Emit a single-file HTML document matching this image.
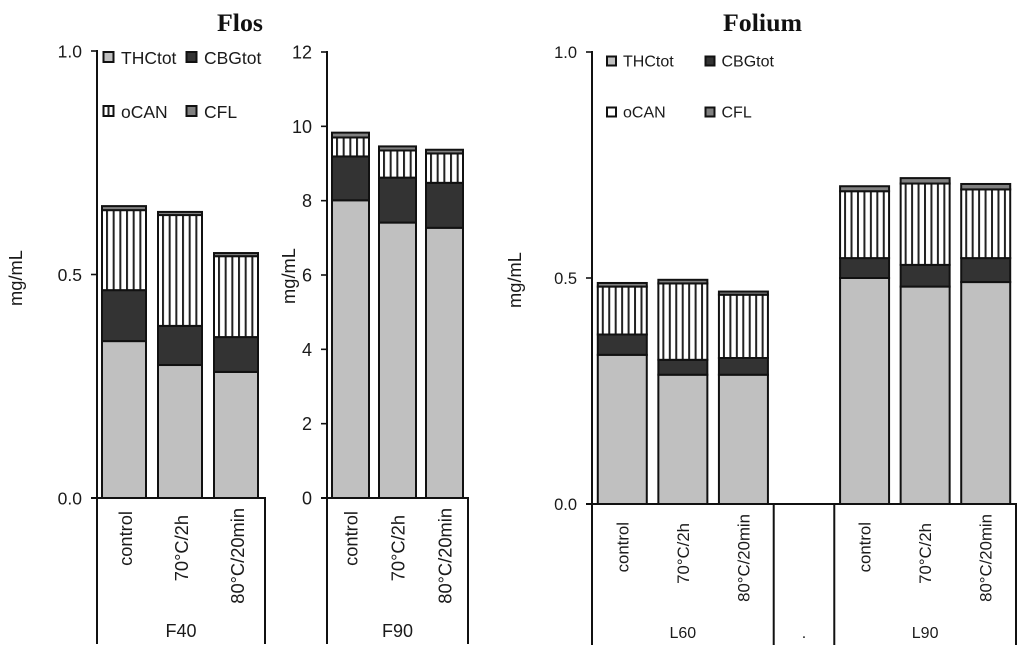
<!DOCTYPE html>
<html>
<head>
<meta charset="utf-8">
<title>Flos and Folium cannabinoid content</title>
<style>
html,body{margin:0;padding:0;background:#fff;}
svg{display:block;}
text{font-family:"Liberation Sans",sans-serif;fill:#1a1a1a;}
.title{font-family:"Liberation Serif",serif;font-weight:bold;font-size:25px;fill:#111;}
</style>
</head>
<body>
<svg id="chart" xmlns="http://www.w3.org/2000/svg" width="1024" height="654" viewBox="0 0 1024 654">
  <defs id="defs"></defs>
  <text class="title" x="217" y="31" textLength="46" lengthAdjust="spacingAndGlyphs">Flos</text>
  <text class="title" x="723" y="31" textLength="79" lengthAdjust="spacingAndGlyphs">Folium</text>
  <g id="marks"></g>
</svg>
<script>
// Series names
const seriesNames = ['THCtot', 'CBGtot', 'oCAN', 'CFL'];

// Panel F40
const f40Categories = ['control', '70°C/2h', '80°C/20min'];
const f40Thc = [0.351, 0.2975, 0.282];
const f40Cbg = [0.114, 0.0875, 0.078];
const f40Ocan = [0.179, 0.248, 0.181];
const f40Cfl = [0.009, 0.007, 0.007];
const f40Ticks = ['0.0', '0.5', '1.0'];

// Panel F90
const f90Categories = ['control', '70°C/2h', '80°C/20min'];
const f90Thc = [8.01, 7.41, 7.27];
const f90Cbg = [1.18, 1.21, 1.21];
const f90Ocan = [0.51, 0.73, 0.79];
const f90Cfl = [0.13, 0.11, 0.10];
const f90Ticks = ['0', '2', '4', '6', '8', '10', '12'];

// Panel Folium (the "." category is an empty spacer)
const folCategories = ['control', '70°C/2h', '80°C/20min', '', 'control', '70°C/2h', '80°C/20min'];
const folThc = [0.33, 0.286, 0.286, 0, 0.5, 0.481, 0.491];
const folCbg = [0.045, 0.033, 0.037, 0, 0.044, 0.048, 0.053];
const folOcan = [0.106, 0.169, 0.14, 0, 0.148, 0.18, 0.152];
const folCfl = [0.008, 0.008, 0.007, 0, 0.011, 0.012, 0.012];
const folTicks = ['0.0', '0.5', '1.0'];
const folGroups = ['L60', '.', 'L90'];

const SVG_NS = 'http://www.w3.org/2000/svg';
const marks = document.getElementById('marks');
const defs = document.getElementById('defs');
const colors = { thc: '#c0c0c0', cbg: '#333333', cfl: '#808080' };
let patternCount = 0;

function make(tag, attrs, parent) {
  const node = document.createElementNS(SVG_NS, tag);
  for (const key in attrs) node.setAttribute(key, attrs[key]);
  (parent || marks).appendChild(node);
  return node;
}

function drawLine(x1, y1, x2, y2, width, name) {
  const l = make('line', { x1: x1, y1: y1, x2: x2, y2: y2, stroke: '#111', 'stroke-width': width });
  
  
  return l;
}

function drawLabel(str, x, y, size, anchor, name, rotate) {
  const t = make('text', { x: x, y: y, 'font-size': size, 'text-anchor': anchor });
  if (rotate) t.setAttribute('transform', 'rotate(-90 ' + x + ' ' + y + ')');
  t.textContent = str;
  
  
  return t;
}

function hatchPattern(startX, step) {
  patternCount += 1;
  const id = 'hatch-' + patternCount;
  const p = make('pattern', { id: id, patternUnits: 'userSpaceOnUse', x: startX, y: 0, width: step, height: 10 }, defs);
  make('rect', { x: 0, y: 0, width: step, height: 10, fill: '#fff' }, p);
  make('rect', { x: 0, y: 0, width: 2, height: 10, fill: '#222' }, p);
  return 'url(#' + id + ')';
}

function drawPanel(cfg) {
  const yScale = v => cfg.y0 - (v / cfg.max) * (cfg.y0 - cfg.yTop);
  const step = (cfg.xEnd - cfg.x0) / cfg.categories.length;
  const xCenter = i => cfg.x0 + step * (i + 0.5) + cfg.barShift;

  // bars
  cfg.categories.forEach((cat, i) => {
    if (!cat) return;
    const left = xCenter(i) - cfg.barWidth / 2;
    const segments = [
      ['thc', cfg.thc[i], colors.thc],
      ['cbg', cfg.cbg[i], colors.cbg],
      ['ocan', cfg.ocan[i], hatchPattern(left + 4, cfg.hatchStep)],
      ['cfl', cfg.cfl[i], colors.cfl]
    ];
    let base = 0;
    segments.forEach(seg => {
      const top = yScale(base + seg[1]);
      const bottom = yScale(base);
      const r = make('rect', { x: left, y: top, width: cfg.barWidth, height: bottom - top, fill: seg[2], stroke: '#111', 'stroke-width': 2 });
      
      
      base += seg[1];
    });
  });

  // axes
  drawLine(cfg.x0, cfg.yTop - 1, cfg.x0, cfg.axisBottom, 2, cfg.id + '-y-axis');
  drawLine(cfg.x0 - 6, cfg.y0, cfg.xEnd + 1, cfg.y0, 2, cfg.id + '-x-axis');
  cfg.separators.forEach(s => {
    drawLine(cfg.x0 + step * s, cfg.y0, cfg.x0 + step * s, cfg.axisBottom, 2, cfg.id + '-group-separator');
  });

  // y ticks
  cfg.ticks.forEach(label => {
    const y = yScale(parseFloat(label));
    drawLine(cfg.x0 - 6, y, cfg.x0, y, 1.6, cfg.id + '-y-tick');
    drawLabel(label, cfg.x0 - cfg.tickGap, y + cfg.tickSize * 0.36, cfg.tickSize, 'end', cfg.id + '-y-tick-label');
  });

  // y title
  drawLabel('mg/mL', cfg.titleX, cfg.titleY, 18.3, 'middle', cfg.id + '-y-axis-title', true);

  // category labels
  cfg.categories.forEach((cat, i) => {
    if (!cat) return;
    const k = cfg.categories.indexOf(cat);
    drawLabel(cat, xCenter(i) + cfg.labelShift, cfg.labelTops[k], cfg.labelSize, 'end', cfg.id + '-category-label', true);
  });

  // group labels
  cfg.groups.forEach(g => {
    const cx = cfg.x0 + step * g.pos;
    drawLabel(g.label, cx, cfg.groupY, cfg.groupSize, 'middle', cfg.id + '-group-label');
  });
}

drawPanel({
  id: 'f40', categories: f40Categories, thc: f40Thc, cbg: f40Cbg, ocan: f40Ocan, cfl: f40Cfl, ticks: f40Ticks,
  max: 1, x0: 97, xEnd: 265, y0: 498, yTop: 51, axisBottom: 644, barShift: -1, barWidth: 44, hatchStep: 6.67,
  separators: [3], tickGap: 15, tickSize: 17.5, titleX: 22, titleY: 278,
  labelShift: 8, labelTops: [511, 515, 508], labelSize: 18.3, groupY: 637, groupSize: 18,
  groups: [{ label: 'F40', pos: 1.5 }]
});
drawPanel({
  id: 'f90', categories: f90Categories, thc: f90Thc, cbg: f90Cbg, ocan: f90Ocan, cfl: f90Cfl, ticks: f90Ticks,
  max: 12, x0: 327, xEnd: 468, y0: 498, yTop: 52, axisBottom: 644, barShift: 0, barWidth: 37, hatchStep: 6.67,
  separators: [3], tickGap: 15, tickSize: 18, titleX: 295, titleY: 276,
  labelShift: 7, labelTops: [511, 515, 508], labelSize: 18.3, groupY: 637, groupSize: 18,
  groups: [{ label: 'F90', pos: 1.5 }]
});
drawPanel({
  id: 'folium', categories: folCategories, thc: folThc, cbg: folCbg, ocan: folOcan, cfl: folCfl, ticks: folTicks,
  max: 1, x0: 592, xEnd: 1016, y0: 504, yTop: 52, axisBottom: 645, barShift: 0, barWidth: 49, hatchStep: 6.45,
  separators: [3, 4, 7], tickGap: 15, tickSize: 16.5, titleX: 521, titleY: 280,
  labelShift: 6, labelTops: [522, 523, 514], labelSize: 16.8, groupY: 638, groupSize: 16,
  groups: [{ label: folGroups[0], pos: 1.5 }, { label: folGroups[1], pos: 3.5 }, { label: folGroups[2], pos: 5.5 }]
});

// Legends
function drawLegend(cfg) {
  const fills = [colors.thc, colors.cbg, hatchPattern(cfg.x1 + cfg.hatchOffset, cfg.hatchStep), colors.cfl];
  seriesNames.forEach((name, i) => {
    const col = i % 2;
    const row = Math.floor(i / 2);
    const sx = col ? cfg.x2 : cfg.x1;
    const sy = row ? cfg.y2 : cfg.y1;
    const r = make('rect', { x: sx, y: sy, width: cfg.size, height: cfg.size, fill: fills[i], stroke: '#111', 'stroke-width': 2 });
    
    
    drawLabel(name, sx + cfg.textGap, sy + cfg.baseGap, cfg.fontSize, 'start', 'legend-entry-' + name.toLowerCase());
  });
}
drawLegend({ x1: 103.5, x2: 186.5, y1: 52, y2: 106, size: 10, textGap: 17.5, baseGap: 12, fontSize: 17.5, hatchStep: 5, hatchOffset: 4 });
drawLegend({ x1: 607, x2: 705.5, y1: 56.5, y2: 107.5, size: 9, textGap: 16, baseGap: 10, fontSize: 16, hatchStep: 50, hatchOffset: -2 });
</script>
</body>
</html>
